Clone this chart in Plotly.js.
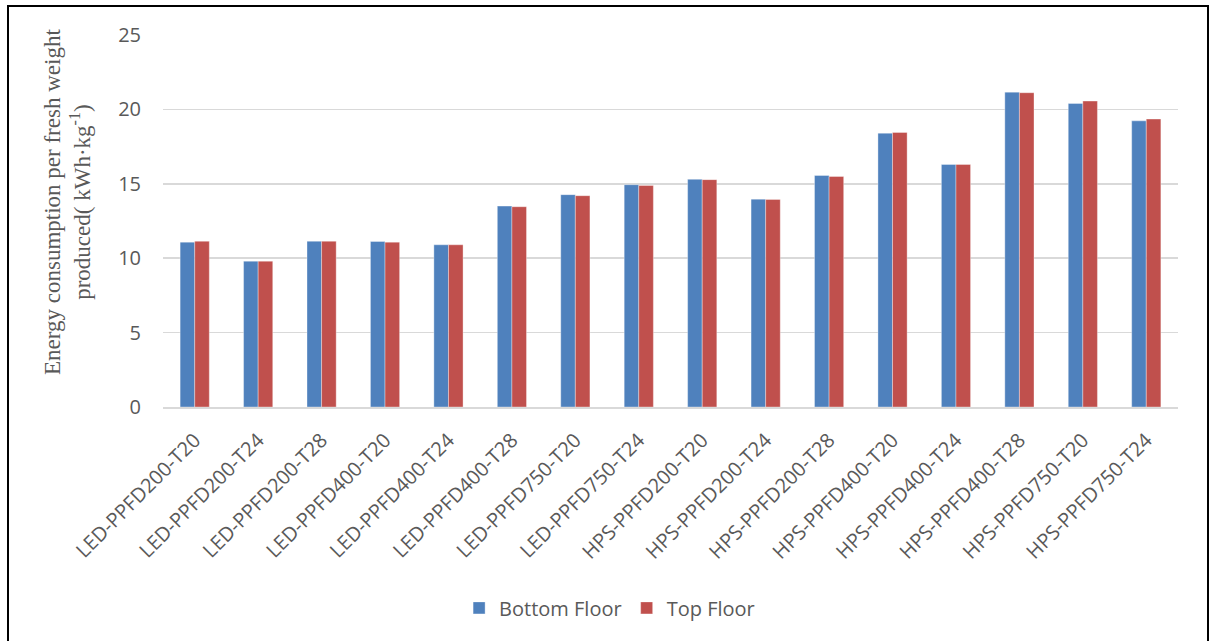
<!DOCTYPE html>
<html>
<head>
<meta charset="utf-8">
<script src="https://cdn.plot.ly/plotly-3.0.1.min.js"></script>
<style>
  html, body { margin: 0; padding: 0; background: #ffffff; }
  #wrap { position: relative; width: 1209px; height: 641px; overflow: hidden; }
  #chart { position: absolute; left: 0; top: 0; width: 1209px; height: 641px; }
  #frame {
    position: absolute; left: 7px; top: 5px; width: 1198px; height: 660px;
    border: 2px solid #000; pointer-events: none;
  }
</style>
</head>
<body>
<div id="wrap">
  <div id="chart"></div>
  <div id="frame"></div>
</div>
<script>
// Treatment labels (light source - PPFD - temperature)
const treatments = [
  'LED-PPFD200-T20', 'LED-PPFD200-T24', 'LED-PPFD200-T28',
  'LED-PPFD400-T20', 'LED-PPFD400-T24', 'LED-PPFD400-T28',
  'LED-PPFD750-T20', 'LED-PPFD750-T24',
  'HPS-PPFD200-T20', 'HPS-PPFD200-T24', 'HPS-PPFD200-T28',
  'HPS-PPFD400-T20', 'HPS-PPFD400-T24', 'HPS-PPFD400-T28',
  'HPS-PPFD750-T20', 'HPS-PPFD750-T24'
];

// Energy consumption per fresh weight produced (kWh·kg-1)
const bottomFloor = [11.08, 9.80, 11.14, 11.12, 10.90, 13.50, 14.27, 14.94,
                     15.30, 13.97, 15.56, 18.40, 16.30, 21.16, 20.40, 19.23];
const topFloor    = [11.14, 9.80, 11.14, 11.08, 10.90, 13.46, 14.20, 14.89,
                     15.28, 13.95, 15.49, 18.45, 16.30, 21.12, 20.56, 19.35];

const yTicks = [0, 5, 10, 15, 20, 25];

const labelFont = { family: 'Open Sans, Lato, sans-serif', size: 20, color: '#595959' };

const traces = [
  {
    type: 'bar', name: 'Bottom Floor', x: treatments, y: bottomFloor,
    marker: { color: '#4F81BD', line: { color: 'rgba(255,255,255,0.35)', width: 1 } },
    hoverinfo: 'x+y'
  },
  {
    type: 'bar', name: 'Top Floor', x: treatments, y: topFloor,
    marker: { color: '#C0504D', line: { color: 'rgba(255,255,255,0.35)', width: 1 } },
    hoverinfo: 'x+y'
  }
];

const layout = {
  width: 1209, height: 641,
  margin: { l: 163, r: 31, t: 35, b: 234 },
  paper_bgcolor: '#ffffff', plot_bgcolor: '#ffffff',
  barmode: 'group', bargap: 0.54, bargroupgap: 0,
  font: labelFont,
  showlegend: true,
  legend: {
    orientation: 'h', x: 0.44, xanchor: 'center', y: -0.54, yanchor: 'middle',
    font: labelFont, traceorder: 'normal'
  },
  xaxis: {
    type: 'category', tickangle: -45, tickfont: labelFont,
    showgrid: false, showline: true, linecolor: '#D9D9D9', linewidth: 1.5,
    ticks: '', ticklabelstandoff: 12, automargin: false, fixedrange: true
  },
  yaxis: {
    range: [0, 25], tickvals: yTicks, ticktext: yTicks.map(String),
    tickfont: labelFont, showgrid: true, gridcolor: '#D9D9D9', gridwidth: 1.5,
    zeroline: false, showline: false, ticks: '', ticklabelstandoff: 21,
    automargin: false, fixedrange: true
  },
  annotations: [
    {
      xref: 'paper', yref: 'paper', x: -0.094, y: 0.55,
      xanchor: 'center', yanchor: 'middle', textangle: -90, showarrow: false,
      text: 'Energy consumption per fresh weight<br>produced( kWh·kg<sup>-1</sup>)',
      font: { family: 'Liberation Serif, Times New Roman, serif', size: 23, color: '#595959' }
    }
  ]
};

Plotly.newPlot('chart', traces, layout, { displayModeBar: false, staticPlot: true });
</script>
</body>
</html>
